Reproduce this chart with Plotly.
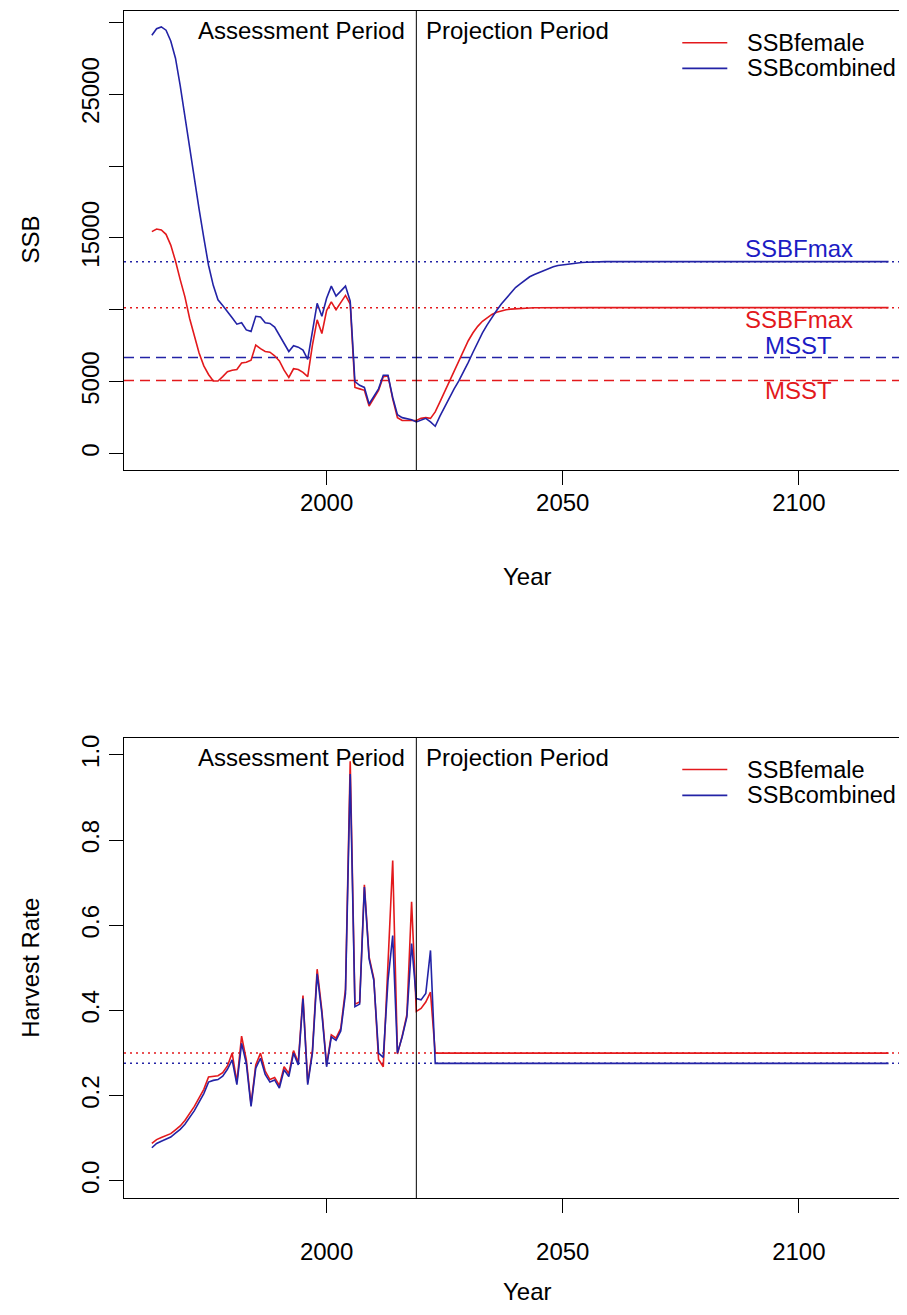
import plotly.graph_objects as go

# ---------------- data ----------------
ssb_years = list(range(1963, 2061)) + [2119]
ssb_female = [
    15440, 15620, 15550, 15250, 14500, 13400, 12100, 10900, 9400, 8100,   # 1963-1972
    7000, 6100, 5500, 5050, 5050, 5350, 5700, 5800, 5850, 6300,           # 1973-1982
    6350, 6500, 7550, 7300, 7100, 7050, 6800, 6450, 5800, 5300,           # 1983-1992
    5900, 5850, 5650, 5350, 7550, 9300, 8350, 9950, 10550, 10000,         # 1993-2002
    10500, 11000, 10400, 4600, 4500, 4400, 3300, 3900, 4400, 5350,        # 2003-2012
    5400, 3800, 2500, 2300, 2300, 2250, 2300, 2450, 2500, 2450,           # 2013-2022
    2900, 3600, 4300, 5000, 5750, 6500, 7200, 7850, 8400, 8850,           # 2023-2032
    9200, 9470, 9680, 9830, 9930, 10000, 10050, 10080, 10100, 10120,      # 2033-2042
    10130, 10140, 10145, 10150, 10150, 10150, 10150, 10150, 10150, 10150, # 2043-2052
    10150, 10150, 10150, 10150, 10150, 10150, 10150, 10150,               # 2053-2060
    10150,                                                                # 2119
]
ssb_combined = [
    29100, 29550, 29680, 29450, 28700, 27500, 25600, 23400, 21200, 19100, # 1963-1972
    17000, 15000, 13100, 11700, 10700, 10300, 9900, 9450, 9000, 9100,     # 1973-1982
    8600, 8500, 9550, 9500, 9100, 9050, 8800, 8200, 7600, 7100,           # 1983-1992
    7500, 7400, 7200, 6550, 8500, 10450, 9550, 10800, 11650, 10950,       # 1993-2002
    11300, 11650, 10600, 5000, 4750, 4600, 3450, 4000, 4500, 5450,        # 2003-2012
    5450, 3900, 2700, 2500, 2450, 2350, 2200, 2350, 2450, 2200,           # 2013-2022
    1900, 2600, 3250, 3900, 4500, 5050, 5650, 6350, 7050, 7750,           # 2023-2032
    8400, 8950, 9500, 9950, 10400, 10800, 11200, 11550, 11800, 12050,     # 2033-2042
    12300, 12450, 12600, 12750, 12900, 13000, 13080, 13130, 13180, 13230, # 2043-2052
    13270, 13290, 13310, 13330, 13340, 13345, 13350, 13350,               # 2053-2060
    13350,                                                                # 2119
]

hr_years = list(range(1963, 2024)) + [2119]
hr_female = [
    0.088, 0.097, 0.102, 0.106, 0.111, 0.120, 0.129, 0.142, 0.158, 0.175,  # 1963-1972
    0.195, 0.215, 0.244, 0.246, 0.247, 0.254, 0.270, 0.300, 0.232, 0.340,  # 1973-1982
    0.285, 0.180, 0.272, 0.300, 0.258, 0.238, 0.243, 0.224, 0.268, 0.252,  # 1983-1992
    0.306, 0.278, 0.435, 0.231, 0.306, 0.497, 0.400, 0.272, 0.343, 0.335,  # 1993-2002
    0.358, 0.450, 0.985, 0.415, 0.420, 0.695, 0.526, 0.475, 0.285, 0.268,  # 2003-2012
    0.500, 0.752, 0.298, 0.340, 0.390, 0.655, 0.398, 0.405, 0.420, 0.443,  # 2013-2022
    0.300,                                                                 # 2023
    0.300,                                                                 # 2119
]
hr_combined = [
    0.078, 0.088, 0.093, 0.098, 0.103, 0.112, 0.121, 0.133, 0.148, 0.165,  # 1963-1972
    0.185, 0.205, 0.232, 0.236, 0.238, 0.246, 0.262, 0.284, 0.226, 0.323,  # 1973-1982
    0.276, 0.175, 0.265, 0.288, 0.250, 0.232, 0.237, 0.218, 0.261, 0.245,  # 1983-1992
    0.300, 0.272, 0.428, 0.226, 0.300, 0.486, 0.393, 0.268, 0.338, 0.330,  # 1993-2002
    0.352, 0.440, 0.955, 0.409, 0.415, 0.690, 0.521, 0.471, 0.300, 0.290,  # 2003-2012
    0.470, 0.576, 0.300, 0.338, 0.385, 0.557, 0.428, 0.425, 0.440, 0.541,  # 2013-2022
    0.276,                                                                 # 2023
    0.276,                                                                 # 2119
]

series_names = ["SSBfemale", "SSBcombined"]
ssbfmax_female, ssbfmax_combined = 10150, 13350
msst_female, msst_combined = 5075, 6675
hr_ref_female, hr_ref_combined = 0.300, 0.276
split_year = 2019

ssb_ticks = [0, 5000, 10000, 15000, 20000, 25000, 30000]
ssb_ticktext = ["0", "5000", "", "15000", "", "25000", ""]
hr_ticks = [0.0, 0.2, 0.4, 0.6, 0.8, 1.0]
hr_ticktext = ["0.0", "0.2", "0.4", "0.6", "0.8", "1.0"]
year_ticks = [2000, 2050, 2100]

# ---------------- style ----------------
FONT = "Liberation Sans, Arial, Helvetica, sans-serif"
RED = "#e3191c"
BLUE = "#2323a6"
BLUE_TXT = "#1c1cc4"
XR = [1957.1, 2122.9]

fig = go.Figure()

for x, y, col, nm in [(ssb_years, ssb_female, RED, series_names[0]),
                      (ssb_years, ssb_combined, BLUE, series_names[1])]:
    fig.add_trace(go.Scatter(x=x, y=y, mode="lines", name=nm,
                             line=dict(color=col, width=1.6),
                             xaxis="x", yaxis="y"))
for x, y, col, nm in [(hr_years, hr_female, RED, series_names[0]),
                      (hr_years, hr_combined, BLUE, series_names[1])]:
    fig.add_trace(go.Scatter(x=x, y=y, mode="lines", name=nm,
                             line=dict(color=col, width=1.6),
                             xaxis="x2", yaxis="y2"))

ax_common = dict(showline=True, linecolor="black", linewidth=1, ticks="outside",
                 ticklen=14, tickwidth=1, tickcolor="black", showgrid=False,
                 zeroline=False, tickfont=dict(family=FONT, size=24, color="black"))

fig.update_layout(
    width=899, height=1298,
    margin=dict(l=116, r=0, t=1, b=108),
    paper_bgcolor="white", plot_bgcolor="white",
    showlegend=False,
    font=dict(family=FONT, size=24, color="black"),
    xaxis=dict(domain=[0, 1], range=XR, anchor="y", tickvals=year_ticks,
               mirror=True, ticklabelstandoff=-3, **ax_common),
    yaxis=dict(domain=[0.6131, 1.0], range=[-1160, 30785], anchor="x",
               tickvals=ssb_ticks, ticktext=ssb_ticktext, tickangle=-90, **ax_common),
    xaxis2=dict(domain=[0, 1], range=XR, anchor="y2", tickvals=year_ticks,
                mirror=True, ticklabelstandoff=18, **ax_common),
    yaxis2=dict(domain=[0.0, 0.3877], range=[-0.04, 1.04], anchor="x2",
                tickvals=hr_ticks, ticktext=hr_ticktext, tickangle=-90, **ax_common),
)

def hline(xd, ya, yv, col, dash):
    fig.add_shape(type="line", xref=xd, x0=0, x1=1, yref=ya, y0=yv, y1=yv,
                  line=dict(color=col, width=1.5, dash=dash), layer="below")

DOT = "2px,4px"
DASH = "10px,6px"
hline("x domain", "y", ssbfmax_combined, BLUE, DOT)
hline("x domain", "y", ssbfmax_female, RED, DOT)
hline("x domain", "y", msst_combined, BLUE, DASH)
hline("x domain", "y", msst_female, RED, DASH)
hline("x2 domain", "y2", hr_ref_female, RED, DOT)
hline("x2 domain", "y2", hr_ref_combined, BLUE, DOT)

for xa, ya in [("x", "y domain"), ("x2", "y2 domain")]:
    fig.add_shape(type="line", xref=xa, x0=split_year, x1=split_year,
                  yref=ya, y0=0, y1=1, line=dict(color="black", width=1))

ann = []
def text(t, x, y, xref, yref, size=24, **kw):
    d = dict(text=t, x=x, y=y, xref=xref, yref=yref, showarrow=False,
             font=dict(family=FONT, size=size, color=kw.pop("color", "black")))
    d.update(kw)
    ann.append(d)

for xa in ["x", "x2"]:
    ya = "y" if xa == "x" else "y2"
    text("Assessment Period", split_year, 0.957, xa, ya + " domain",
         xanchor="right", yanchor="middle", xshift=-9)
    text("Projection Period", split_year, 0.957, xa, ya + " domain",
         xanchor="left", yanchor="middle", xshift=8)
    # legend
    for i, (nm, col) in enumerate(zip(series_names, [RED, BLUE])):
        yy = [0.931, 0.875][i]
        fig.add_shape(type="line", xref=xa + " domain", yref=ya + " domain",
                      x0=0.7130, x1=0.7705, y0=yy, y1=yy,
                      line=dict(color=col, width=1.6))
        text(nm, 0.7935, yy, xa + " domain", ya + " domain", size=23.5,
             xanchor="left", yanchor="middle")

text("SSBFmax", 2100, ssbfmax_combined, "x", "y", yanchor="middle", yshift=13, color=BLUE_TXT)
text("SSBFmax", 2100, ssbfmax_female, "x", "y", yanchor="middle", yshift=-12, color=RED)
text("MSST", 2100, msst_combined, "x", "y", yanchor="middle", yshift=12, color=BLUE_TXT)
text("MSST", 2100, msst_female, "x", "y", yanchor="middle", yshift=-10, color=RED)

text("SSB", -0.1188, 0.8074, "paper", "paper", textangle=-90,
     xanchor="center", yanchor="middle")
text("Harvest Rate", -0.1188, 0.1939, "paper", "paper", textangle=-90,
     xanchor="center", yanchor="middle")
text("Year", 0.5147, 0.524, "paper", "paper", xanchor="center", yanchor="middle")
text("Year", 0.5147, -0.0790, "paper", "paper", xanchor="center", yanchor="middle")

fig.update_layout(annotations=ann)
fig.write_html("out.html")
